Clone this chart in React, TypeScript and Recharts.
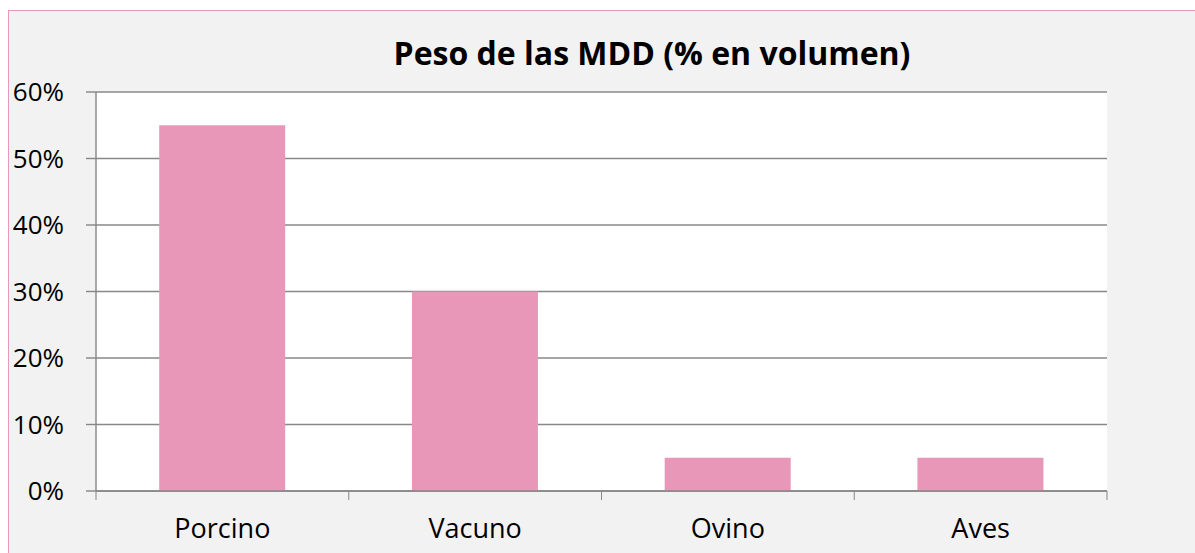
import { Bar, BarChart, CartesianGrid, XAxis, YAxis } from "recharts";

const CATEGORIES = ["Porcino", "Vacuno", "Ovino", "Aves"];
const SHARE = [55, 30, 5, 5];
const Y_TICKS = [0, 10, 20, 30, 40, 50, 60];
const TITLE = "Peso de las MDD (% en volumen)";

const W = 1195;
const H = 553;
const MARGIN = { top: 92, right: 88, bottom: 22, left: 16 };
const Y_AXIS_W = 80;
const X_AXIS_H = 40;
const PLOT_W = W - MARGIN.left - MARGIN.right - Y_AXIS_W;

const FONT = "'Open Sans', sans-serif";
const AXIS = "#868686";
const BAR = "#e897b8";

const data = CATEGORIES.map((name, i) => ({ name, share: SHARE[i] }));

function CategoryTick(props: any) {
  const { x, y, payload, index } = props;
  const half = PLOT_W / CATEGORIES.length / 2;
  return (
    <g>
      <line x1={x - half} x2={x - half} y1={y} y2={y + 9} stroke={AXIS} />
      {index === CATEGORIES.length - 1 && (
        <line x1={x + half} x2={x + half} y1={y} y2={y + 9} stroke={AXIS} />
      )}
      <text x={x} y={y + 47} textAnchor="middle" fontFamily={FONT} fontSize={27} fill="#000">
        {payload.value}
      </text>
    </g>
  );
}

export default function App() {
  return (
    <div style={{ position: "fixed", left: 0, top: 0, width: W, height: H, overflow: "hidden", background: "#fff" }}>
      <div
        style={{
          position: "absolute", left: 8, top: 10, width: 1220, height: 580,
          border: "1px solid #e899b9", background: "#f2f2f2",
        }}
      />
      <div
        style={{
          position: "absolute", left: 652, top: 31, transform: "translateX(-50%)",
          whiteSpace: "nowrap", fontFamily: FONT, fontWeight: 700, fontSize: 32, color: "#000",
        }}
      >
        {TITLE}
      </div>
      <div style={{ position: "absolute", left: 0, top: 0 }}>
        <BarChart width={W} height={H} data={data} margin={MARGIN} barCategoryGap="25%">
          <CartesianGrid vertical={false} stroke="#888888" strokeWidth={1.4} fill="#fff" fillOpacity={1} />
          <XAxis
            dataKey="name"
            height={X_AXIS_H}
            stroke={AXIS}
            strokeWidth={1.4}
            tickLine={false}
            tickSize={0}
            tickMargin={0}
            interval={0}
            tick={<CategoryTick />}
          />
          <YAxis
            width={Y_AXIS_W}
            domain={[0, 60]}
            ticks={Y_TICKS}
            tickFormatter={(v) => `${v}%`}
            stroke={AXIS}
            strokeWidth={1.4}
            tickSize={10}
            tickMargin={22}
            tick={{ fill: "#000", fontSize: 26, fontFamily: FONT }}
          />
          <Bar dataKey="share" fill={BAR} isAnimationActive={false} />
        </BarChart>
      </div>
    </div>
  );
}
